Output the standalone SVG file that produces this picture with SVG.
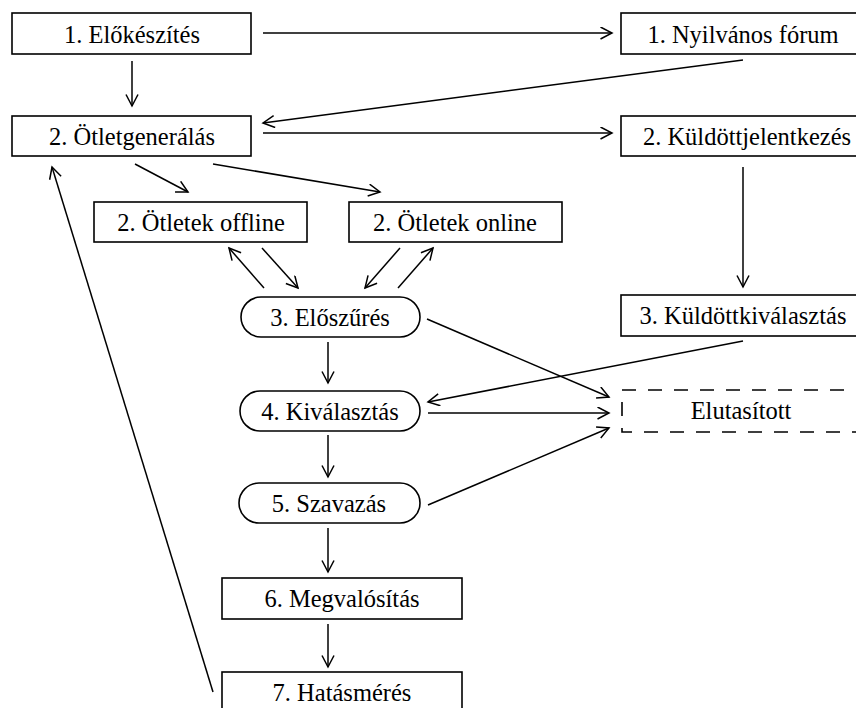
<svg xmlns="http://www.w3.org/2000/svg" width="856" height="708" viewBox="0 0 856 708">
<style>
.b{fill:#fff;stroke:#000;stroke-width:1.6}
.d{fill:#fff;stroke:#000;stroke-width:1.6;stroke-dasharray:14 12}
.t{font-family:'Liberation Serif','Times New Roman',serif;font-size:24.5px;fill:#000;text-anchor:middle}
.c line{stroke:#000;stroke-width:1.5;marker-end:url(#a)}
</style>
<defs>
<marker id="a" markerUnits="userSpaceOnUse" markerWidth="15" markerHeight="15" refX="12" refY="6.5" orient="auto">
<path d="M0.5,0.5 L12,6.5 L0.5,12.5" fill="none" stroke="#000" stroke-width="1.5"/>
</marker>
</defs>
<rect width="856" height="708" fill="#fff"/>
<g class="c" id="connectors">
<line x1="132" y1="61" x2="132" y2="106"/>
<line x1="263" y1="33" x2="612" y2="33"/>
<line x1="743" y1="60" x2="263" y2="123"/>
<line x1="263" y1="133" x2="612" y2="133"/>
<line x1="135" y1="164" x2="188" y2="192"/>
<line x1="213" y1="164" x2="380" y2="192"/>
<line x1="264" y1="288" x2="229" y2="248"/>
<line x1="262" y1="248" x2="298" y2="288"/>
<line x1="400" y1="248" x2="365" y2="288"/>
<line x1="398" y1="288" x2="433" y2="248"/>
<line x1="743" y1="167" x2="743" y2="287"/>
<line x1="743" y1="341" x2="428" y2="402"/>
<line x1="328" y1="342" x2="328" y2="383"/>
<line x1="427" y1="319" x2="609" y2="397"/>
<line x1="428" y1="413" x2="609" y2="413"/>
<line x1="328" y1="435" x2="328" y2="477"/>
<line x1="428" y1="505" x2="609" y2="428"/>
<line x1="328" y1="528" x2="328" y2="572"/>
<line x1="328" y1="624" x2="328" y2="667"/>
<line x1="213" y1="692" x2="52" y2="167"/>
</g>
<g id="n1"><rect class="b" x="12" y="13" width="239" height="41"/><text class="t" x="132" y="43">1. Előkészítés</text></g>
<g id="n2"><rect class="b" x="621" y="13" width="244" height="41"/><text class="t" x="743" y="43">1. Nyilvános fórum</text></g>
<g id="n3"><rect class="b" x="12" y="116" width="239" height="40"/><text class="t" x="132" y="145">2. Ötletgenerálás</text></g>
<g id="n4"><rect class="b" x="621" y="116" width="244" height="40"/><text class="t" x="747" y="145">2. Küldöttjelentkezés</text></g>
<g id="n5"><rect class="b" x="94" y="202" width="213" height="40"/><text class="t" x="201" y="231">2. Ötletek offline</text></g>
<g id="n6"><rect class="b" x="349" y="202" width="213" height="40"/><text class="t" x="455" y="231">2. Ötletek online</text></g>
<g id="n7"><rect class="b" x="241" y="297" width="179" height="40" rx="20"/><text class="t" x="330" y="326">3. Előszűrés</text></g>
<g id="n8"><rect class="b" x="621" y="295" width="244" height="41"/><text class="t" x="743" y="324">3. Küldöttkiválasztás</text></g>
<g id="n9"><rect class="b" x="240" y="391" width="180" height="40" rx="20"/><text class="t" x="330" y="420">4. Kiválasztás</text></g>
<g id="n10"><rect class="d" x="622" y="390" width="244" height="42"/><text class="t" x="741" y="419">Elutasított</text></g>
<g id="n11"><rect class="b" x="239" y="483" width="181" height="40" rx="20"/><text class="t" x="329" y="512">5. Szavazás</text></g>
<g id="n12"><rect class="b" x="222" y="578" width="240" height="41"/><text class="t" x="342" y="607">6. Megvalósítás</text></g>
<g id="n13"><rect class="b" x="222" y="672" width="240" height="50"/><text class="t" x="342" y="701">7. Hatásmérés</text></g>
</svg>
